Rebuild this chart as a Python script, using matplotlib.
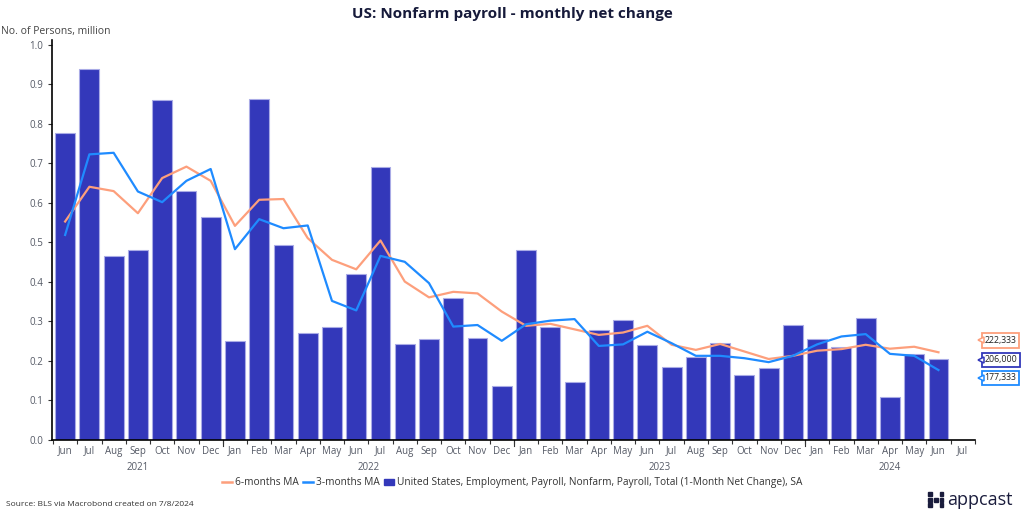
import matplotlib
matplotlib.use("Agg")
import matplotlib.pyplot as plt
import matplotlib.transforms as mtransforms
import numpy as np
from matplotlib.lines import Line2D
from matplotlib.patches import Patch, Rectangle

plt.rcParams['font.family'] = ['Open Sans', 'DejaVu Sans']

# months Jun 2021 .. Jul 2024
months = ['Jun', 'Jul', 'Aug', 'Sep', 'Oct', 'Nov', 'Dec',
          'Jan', 'Feb', 'Mar', 'Apr', 'May', 'Jun', 'Jul', 'Aug', 'Sep', 'Oct', 'Nov', 'Dec',
          'Jan', 'Feb', 'Mar', 'Apr', 'May', 'Jun', 'Jul', 'Aug', 'Sep', 'Oct', 'Nov', 'Dec',
          'Jan', 'Feb', 'Mar', 'Apr', 'May', 'Jun', 'Jul']
years = ['2021', '2022', '2023', '2024']
year_start = [0, 7, 19, 31]
year_end = [6, 18, 30, 37]

# monthly net change, million (Jun 2021 .. Jun 2024)
payroll = [0.778, 0.940, 0.465, 0.480, 0.860, 0.630, 0.565,
           0.250, 0.862, 0.494, 0.272, 0.285, 0.420, 0.690, 0.243, 0.255, 0.360, 0.258, 0.136,
           0.482, 0.287, 0.146, 0.278, 0.303, 0.240, 0.184, 0.210, 0.246, 0.165, 0.182, 0.290,
           0.256, 0.236, 0.310, 0.108, 0.218, 0.206]
ma3 = [0.519, 0.723, 0.727, 0.629, 0.602, 0.656, 0.686,
       0.483, 0.559, 0.536, 0.543, 0.352, 0.328, 0.466, 0.451, 0.397, 0.287, 0.291, 0.251,
       0.293, 0.302, 0.306, 0.238, 0.242, 0.274, 0.245, 0.213, 0.213, 0.207, 0.197, 0.213,
       0.242, 0.262, 0.268, 0.218, 0.213, 0.177]
ma6 = [0.553, 0.641, 0.630, 0.574, 0.663, 0.692, 0.656,
       0.542, 0.608, 0.610, 0.511, 0.456, 0.432, 0.505, 0.401, 0.361, 0.375, 0.371, 0.325,
       0.289, 0.294, 0.280, 0.266, 0.272, 0.289, 0.241, 0.228, 0.243, 0.224, 0.205, 0.213,
       0.226, 0.230, 0.241, 0.231, 0.236, 0.222]
last_labels = ['222,333', '206,000', '177,333']

bar_c = '#3338ba'
ma6_c = '#fd9f7c'
ma3_c = '#1f8bff'
txt_c = '#555a66'

fig = plt.figure(figsize=(10.24, 5.17), dpi=100)
ax = fig.add_axes([0.0508, 0.149, 0.9012, 0.774])

x = np.arange(len(payroll))
ax.bar(x, payroll, width=0.82, color=bar_c, edgecolor='#a9abe6', linewidth=0.8, zorder=2)
ax.plot(x, ma6, color=ma6_c, lw=1.6, zorder=3)
ax.plot(x, ma3, color=ma3_c, lw=1.6, zorder=4)

ax.set_xlim(-0.54, 37.5)
ax.set_ylim(0, 1.013)
for s in ['top', 'right']:
    ax.spines[s].set_visible(False)
ax.spines['left'].set_linewidth(1.2)
ax.spines['bottom'].set_linewidth(1.2)

ax.set_yticks(np.arange(0, 1.01, 0.1))
ax.set_yticklabels(['%.1f' % v for v in np.arange(0, 1.01, 0.1)])
ax.tick_params(axis='y', labelsize=7, colors='#333', labelcolor=txt_c, length=3, width=0.8)

# ticks between months, longer at year boundaries
ax.set_xticks(np.arange(-0.5, len(months), 1.0))
ax.set_xticklabels([])
ax.tick_params(axis='x', which='major', length=3, width=0.8, color='#333')
ax.set_xticks(np.arange(len(months)), minor=True)
ax.set_xticklabels(months, minor=True)
ax.tick_params(axis='x', which='minor', length=0, labelsize=7, labelcolor=txt_c, pad=4)
for b in [6.5, 18.5, 30.5]:
    ax.plot([b, b], [0, -0.015], color='#333', lw=0.8, clip_on=False)

for yr, a, b in zip(years, year_start, year_end):
    ax.text((a + b) / 2, -0.055, yr, ha='center', va='top', fontsize=7, color=txt_c)

# end-of-series value tags
blend = mtransforms.blended_transform_factory(ax.transAxes, ax.transData)
tag_cols = [ma6_c, bar_c, ma3_c]
mid = payroll[-1]
tag_y = [mid + 0.046, mid - 0.003, mid - 0.049]
for lab, c, yy in zip(last_labels, tag_cols, tag_y):
    ax.annotate(lab, xy=(1.0, yy), xycoords=('axes fraction', 'data'),
                xytext=(7, 0), textcoords='offset points', ha='left', va='center',
                fontsize=6.3, color='#222',
                bbox=dict(boxstyle='square,pad=0.3', fc='white', ec=c, lw=1.3),
                annotation_clip=False)
    ax.plot([1.0 + 0.0063], [yy], marker='<', ms=5, mfc='white', mec=c, mew=1.1,
            transform=blend, clip_on=False, zorder=6)

fig.text(0.5, 0.972, 'US: Nonfarm payroll - monthly net change', ha='center', va='center',
         fontsize=11, fontweight='bold', color='#161a3a')
fig.text(0.001, 0.940, 'No. of Persons, million', ha='left', va='center', fontsize=7.5, color='#444')

handles = [Line2D([], [], color=ma6_c, lw=1.8),
           Line2D([], [], color=ma3_c, lw=1.8),
           Patch(color=bar_c)]
labels = ['6-months MA', '3-months MA',
          'United States, Employment, Payroll, Nonfarm, Payroll, Total (1-Month Net Change), SA']
fig.legend(handles, labels, loc='center', bbox_to_anchor=(0.5, 0.066), ncol=3, frameon=False,
           fontsize=7.3, handlelength=1.0, handleheight=0.6, handletextpad=0.3, columnspacing=0.4,
           labelcolor='#333')

fig.text(0.006, 0.025, 'Source: BLS via Macrobond created on 7/8/2024', ha='left', va='center',
         fontsize=6, color='#333')

# appcast logo
for i in range(3):
    for j in range(3):
        if (i, j) in [(0, 1), (2, 1)]:
            continue
        fig.patches.append(Rectangle((0.9065 + j * 0.0055, 0.040 - i * 0.0105), 0.0038, 0.0075,
                                     transform=fig.transFigure, color='#1a1c3c'))
fig.text(0.925, 0.032, 'appcast', ha='left', va='center', fontsize=13, color='#1a1c3c')

fig.savefig('out.png', dpi=100)
